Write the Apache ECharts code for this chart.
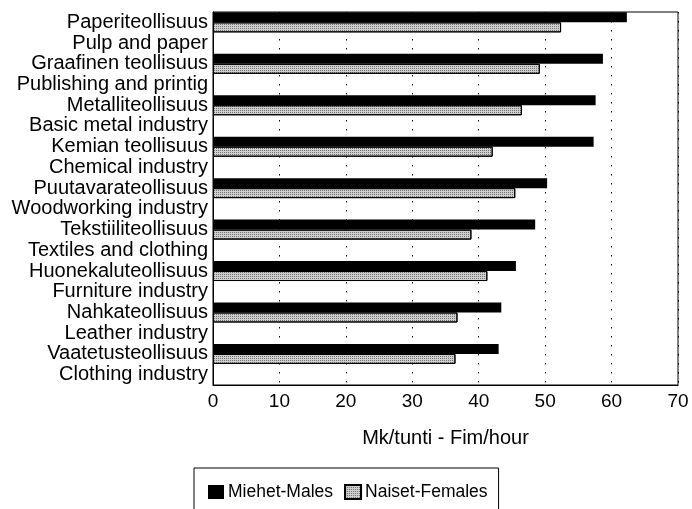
<!DOCTYPE html>
<html><head><meta charset="utf-8">
<script src="https://cdn.jsdelivr.net/npm/echarts@6/dist/echarts.min.js"></script>
<style>html,body{margin:0;padding:0;background:#fff}#c{width:692px;height:509px}</style>
</head><body><div id="c"></div>
<script>
const industriesFi = ["Paperiteollisuus","Graafinen teollisuus","Metalliteollisuus","Kemian teollisuus","Puutavarateollisuus","Tekstiiliteollisuus","Huonekaluteollisuus","Nahkateollisuus","Vaatetusteollisuus"];
const industriesEn = ["Pulp and paper","Publishing and printig","Basic metal industry","Chemical industry","Woodworking industry","Textiles and clothing","Furniture industry","Leather industry","Clothing industry"];
const males   = [62.3, 58.7, 57.6, 57.3, 50.3, 48.5, 45.6, 43.4, 43.0];
const females = [52.4, 49.2, 46.5, 42.1, 45.5, 38.9, 41.3, 36.8, 36.5];
const seriesNames = ["Miehet-Males","Naiset-Females"];
const xTicks = [0,10,20,30,40,50,60,70];

const cats = [], mData = [], fData = [];
industriesFi.forEach((n,i)=>{
  cats.push(n); mData.push(males[i]); fData.push(females[i]);
  cats.push(industriesEn[i]); mData.push('-'); fData.push('-');
});
const font = '"Liberation Sans", Arial, Helvetica, sans-serif';
const chart = echarts.init(document.getElementById('c'));
chart.setOption({
  animation:false,
  backgroundColor:'#fff',
  textStyle:{fontFamily:font},
  grid:{left:213,right:14,top:12,bottom:124,show:true,borderColor:'#000',borderWidth:1,backgroundColor:'transparent'},
  xAxis:{type:'value',min:xTicks[0],max:xTicks[xTicks.length-1],interval:10,
    axisLine:{show:true,lineStyle:{color:'#000'}},axisTick:{show:false},
    axisLabel:{color:'#000',fontSize:19,margin:7,fontFamily:font},
    splitLine:{show:true,lineStyle:{color:'#000',type:[1.5,7.5],width:1}},
    name:'Mk/tunti - Fim/hour',nameLocation:'middle',nameGap:43,
    nameTextStyle:{color:'#000',fontSize:20,fontFamily:font}},
  yAxis:{type:'category',data:cats,inverse:true,
    axisLine:{show:true,lineStyle:{color:'#000'}},axisTick:{show:false},
    axisLabel:{color:'#000',fontSize:20,margin:5,fontFamily:font,interval:0},
    splitLine:{show:false}},
  legend:{left:194,top:468,orient:'horizontal',itemWidth:16,itemHeight:14,itemGap:11,
    borderColor:'#000',borderWidth:1,padding:[15,11,20,14],
    textStyle:{color:'#000',fontSize:17.5,fontFamily:font,padding:[0,0,0,-1]},
    data:[{name:seriesNames[0],icon:'rect'},{name:seriesNames[1],icon:'rect'}]},
  series:[
    {name:seriesNames[0],type:'bar',data:mData,barWidth:10,barGap:'0%',
      itemStyle:{color:'#000'}},
    {name:seriesNames[1],type:'bar',data:fData,barWidth:10,barGap:'0%',
      itemStyle:{color:'#cfcfcf',borderColor:'#000',borderWidth:1,
        decal:{symbol:'rect',symbolSize:1,color:'rgba(0,0,0,0.45)',dashArrayX:[1,1],dashArrayY:[1,1],rotation:0}}}
  ]
});
</script></body></html>
